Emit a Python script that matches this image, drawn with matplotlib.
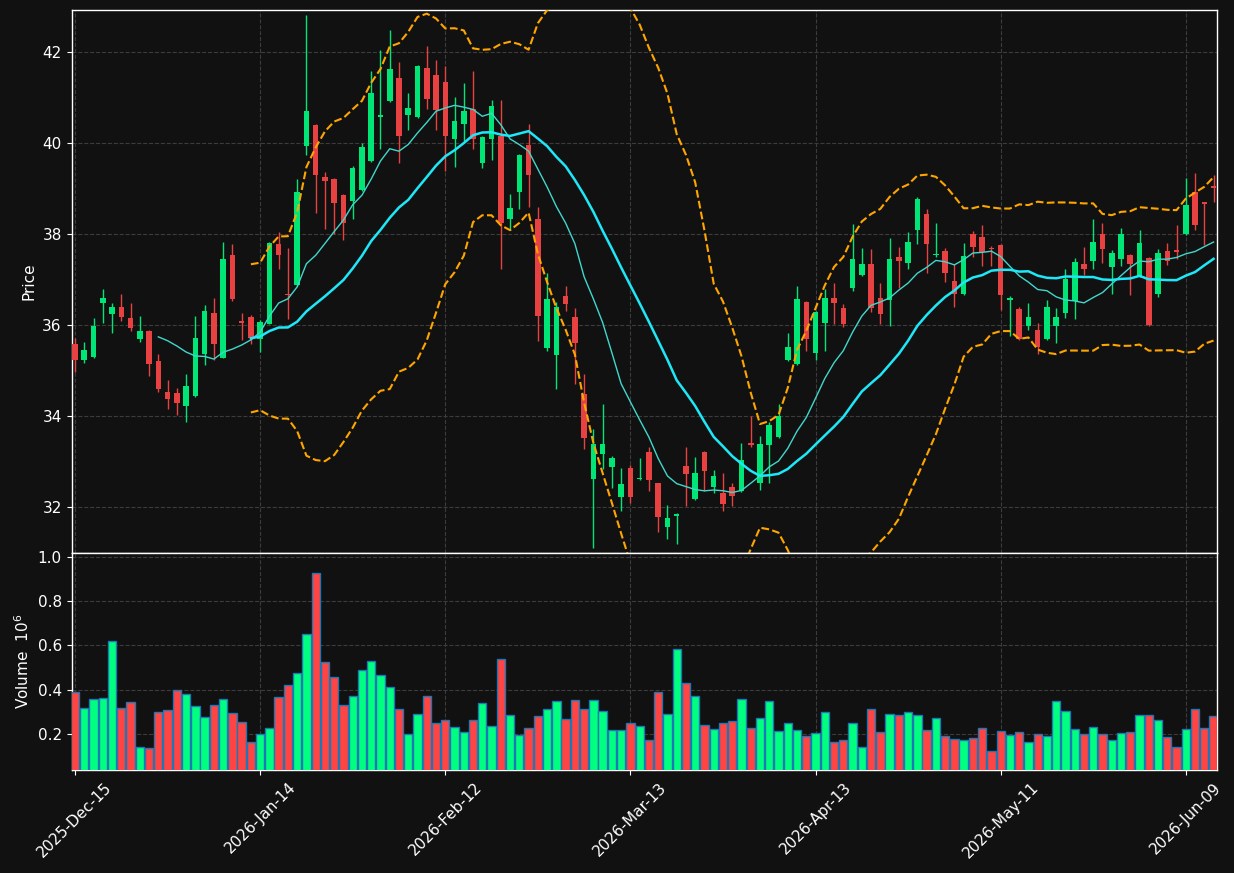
import numpy as np
import matplotlib
matplotlib.use('Agg')
import matplotlib.pyplot as plt
import pandas as pd

opens = [35.59, 35.23, 35.30, 36.49, 36.25, 36.40, 36.16, 35.70, 35.87, 35.20,
         34.52, 34.50, 34.22, 34.44, 35.37, 36.27, 35.28, 37.53, 36.07, 36.17,
         35.68, 36.03, 37.79, 36.67, 36.87, 39.94, 40.39, 39.25, 39.22, 38.85,
         38.73, 38.96, 39.61, 40.58, 40.93, 41.43, 40.62, 40.58, 41.66, 41.50,
         41.34, 40.10, 40.43, 40.76, 39.56, 40.10, 40.16, 38.34, 38.93, 39.95,
         38.32, 35.49, 35.33, 36.64, 36.17, 34.48, 32.61, 33.16, 32.88, 32.21,
         32.84, 32.60, 33.20, 32.51, 31.56, 31.80, 32.89, 32.16, 33.20, 32.44,
         32.31, 32.44, 32.34, 33.41, 32.52, 33.35, 33.54, 35.23, 35.13, 36.51,
         35.39, 36.05, 36.60, 36.37, 36.82, 37.09, 37.35, 36.60, 36.55, 37.50,
         37.37, 38.09, 38.45, 37.54, 37.63, 36.97, 36.67, 37.99, 37.94, 37.69,
         37.76, 36.55, 36.36, 35.97, 35.89, 35.69, 35.98, 36.27, 36.53, 37.35,
         37.40, 37.99, 37.28, 37.44, 37.53, 37.07, 37.48, 36.69, 37.63, 37.63,
         37.99, 38.92, 38.70, 39.04]
highs = [35.71, 35.62, 36.15, 36.79, 36.49, 36.68, 36.48, 36.20, 35.88, 35.36,
         34.79, 34.61, 34.92, 36.20, 36.44, 36.60, 37.83, 37.78, 36.26, 36.22,
         36.11, 37.83, 38.05, 37.70, 39.22, 42.82, 40.43, 39.37, 39.24, 38.87,
         39.50, 40.01, 41.59, 42.06, 42.48, 41.78, 41.10, 41.73, 42.13, 41.82,
         41.69, 41.01, 41.33, 41.58, 40.15, 40.95, 40.95, 38.89, 39.75, 40.43,
         38.60, 37.15, 36.50, 36.86, 36.37, 34.92, 33.70, 34.26, 33.12, 32.86,
         32.92, 33.08, 33.31, 32.53, 32.04, 31.87, 33.32, 33.10, 33.22, 32.81,
         32.75, 32.51, 33.40, 33.99, 33.55, 33.86, 34.26, 35.83, 36.85, 36.53,
         36.30, 36.78, 36.92, 36.47, 38.22, 37.70, 37.68, 36.92, 37.92, 37.72,
         38.05, 38.82, 38.54, 38.25, 37.70, 37.34, 37.80, 38.06, 38.19, 37.73,
         37.78, 36.64, 36.40, 36.48, 36.04, 36.55, 36.37, 37.24, 37.47, 37.72,
         38.32, 38.25, 37.65, 38.14, 37.57, 38.09, 37.50, 37.68, 37.81, 38.20,
         39.23, 39.35, 38.71, 39.29]
lows = [34.96, 35.16, 35.28, 36.04, 35.83, 36.08, 35.86, 35.62, 34.87, 34.52,
        34.14, 34.01, 33.87, 34.42, 35.11, 35.22, 35.27, 36.52, 35.66, 35.57,
        35.40, 36.01, 37.23, 36.13, 36.85, 39.74, 38.47, 38.11, 37.99, 37.87,
        38.34, 38.94, 39.59, 39.86, 40.91, 39.57, 40.30, 40.56, 40.76, 40.28,
        39.38, 39.48, 40.05, 39.86, 39.46, 39.63, 37.24, 38.09, 38.54, 38.60,
        35.65, 35.43, 34.58, 36.30, 34.69, 33.26, 31.08, 32.83, 32.41, 31.91,
        32.08, 32.58, 32.34, 31.45, 31.28, 31.18, 32.02, 32.14, 32.34, 32.29,
        31.91, 32.02, 32.32, 33.32, 32.37, 32.52, 33.52, 35.21, 35.11, 35.43,
        35.23, 35.43, 36.01, 35.95, 36.74, 37.07, 36.28, 36.01, 35.97, 36.82,
        37.22, 37.78, 37.14, 37.50, 36.94, 36.40, 36.65, 37.49, 37.30, 37.30,
        36.33, 35.75, 35.67, 35.88, 35.35, 35.67, 35.60, 36.15, 36.13, 37.10,
        37.24, 37.37, 36.67, 37.30, 36.65, 37.05, 35.98, 36.61, 37.32, 37.44,
        37.97, 38.08, 37.76, 38.71]
closes = [35.23, 35.45, 35.98, 36.60, 36.40, 36.17, 35.94, 35.87, 35.15, 34.58,
          34.38, 34.29, 34.65, 35.72, 36.31, 35.59, 37.44, 36.56, 36.05, 35.72,
          36.07, 37.81, 37.54, 36.65, 38.93, 40.70, 39.29, 39.16, 38.68, 38.24,
          39.45, 39.91, 41.10, 40.61, 41.63, 40.16, 40.77, 41.69, 40.98, 40.73,
          40.16, 40.49, 40.70, 40.10, 40.13, 40.82, 38.24, 38.58, 39.73, 39.30,
          36.20, 36.56, 36.40, 36.45, 35.61, 33.51, 33.38, 33.38, 33.06, 32.49,
          32.21, 32.62, 32.58, 31.77, 31.76, 31.82, 32.72, 32.73, 32.78, 32.67,
          32.05, 32.24, 33.03, 33.36, 33.38, 33.80, 34.00, 35.52, 36.56, 35.68,
          36.28, 36.60, 36.49, 36.02, 37.44, 37.35, 36.37, 36.25, 37.46, 37.40,
          37.83, 38.76, 37.77, 37.56, 37.14, 36.67, 37.52, 37.71, 37.60, 37.66,
          36.65, 36.60, 35.69, 36.17, 35.52, 36.40, 36.17, 37.02, 37.39, 37.24,
          37.83, 37.68, 37.59, 38.00, 37.33, 37.81, 36.00, 37.59, 37.40, 37.61,
          38.63, 38.19, 38.66, 39.02]
volumes_m = [0.389, 0.316, 0.357, 0.362, 0.620, 0.316, 0.343, 0.140, 0.135, 0.298,
             0.307, 0.398, 0.380, 0.325, 0.275, 0.330, 0.357, 0.294, 0.253, 0.162,
             0.198, 0.226, 0.366, 0.420, 0.475, 0.651, 0.928, 0.525, 0.457, 0.330,
             0.370, 0.488, 0.529, 0.466, 0.411, 0.312, 0.198, 0.289, 0.370, 0.248,
             0.262, 0.230, 0.208, 0.262, 0.339, 0.235, 0.538, 0.285, 0.194, 0.226,
             0.280, 0.312, 0.348, 0.266, 0.352, 0.312, 0.352, 0.303, 0.217, 0.217,
             0.248, 0.235, 0.171, 0.389, 0.289, 0.583, 0.429, 0.370, 0.239, 0.221,
             0.248, 0.257, 0.357, 0.226, 0.271, 0.348, 0.212, 0.248, 0.217, 0.189,
             0.203, 0.298, 0.162, 0.171, 0.248, 0.140, 0.312, 0.208, 0.289, 0.285,
             0.298, 0.285, 0.217, 0.271, 0.189, 0.176, 0.171, 0.180, 0.226, 0.122,
             0.212, 0.194, 0.208, 0.162, 0.198, 0.189, 0.348, 0.303, 0.221, 0.198,
             0.230, 0.198, 0.171, 0.203, 0.208, 0.285, 0.285, 0.262, 0.185, 0.140,
             0.221, 0.312, 0.226, 0.280]
tick_labels = ['2025-Dec-15', '2026-Jan-14', '2026-Feb-12', '2026-Mar-13',
               '2026-Apr-13', '2026-May-11', '2026-Jun-09']
tick_step = 20
mav_short, mav_long = 10, 20
bb_window, bb_k = 20, 2

df = pd.DataFrame({'Open': opens, 'High': highs, 'Low': lows,
                   'Close': closes, 'Volume': volumes_m})
n = len(df)
x = np.arange(n)
up = df['Close'] >= df['Open']

BG = '#111111'
UP_C, DN_C = '#00e676', '#e84142'
VUP_C, VDN_C = '#00ff80', '#ff4444'
GRID = '#3c3c3c'

fig = plt.figure(figsize=(12.34, 8.73), dpi=100, facecolor=BG)
L, R = 71.5 / 1234, 1217 / 1234
ax = fig.add_axes([L, 1 - 553 / 873, R - L, (553 - 10) / 873])
axv = fig.add_axes([L, 1 - 770 / 873, R - L, (770 - 553) / 873], sharex=ax)

for a in (ax, axv):
    a.set_facecolor(BG)
    for s in a.spines.values():
        s.set_color('white')
        s.set_linewidth(1.0)
    a.tick_params(colors='white', labelsize=11)
    a.grid(True, color=GRID, linestyle='--', linewidth=0.8)
    a.set_axisbelow(True)

# candles
wick_c = np.where(up, UP_C, DN_C)
ax.vlines(x, df['Low'], df['High'], colors=wick_c, linewidth=1.0, zorder=2)
body_bot = np.minimum(df['Open'], df['Close'])
body_h = np.maximum(np.abs(df['Close'] - df['Open']), 0.03)
ax.bar(x, body_h, bottom=body_bot, width=0.6, color=wick_c, linewidth=0, zorder=3)

# moving averages and bollinger bands
ma_s = df['Close'].rolling(mav_short).mean()
ma_l = df['Close'].rolling(mav_long).mean()
mid = df['Close'].rolling(bb_window).mean()
sd = df['Close'].rolling(bb_window).std()
ax.plot(x, ma_s, color='#40d8cc', linewidth=1.0, zorder=4)
ax.plot(x, ma_l, color='#1ee8f8', linewidth=1.8, zorder=4)
ax.plot(x, mid + bb_k * sd, color='#ffa500', linestyle='--', linewidth=1.5, zorder=4)
ax.plot(x, mid - bb_k * sd, color='#ffa500', linestyle='--', linewidth=1.5, zorder=4)

ax.set_ylim(30.98, 42.93)
ax.set_yticks([32, 34, 36, 38, 40, 42])
ax.set_ylabel('Price', color='white', fontsize=11)
ax.set_xlim(-0.38, n - 1 + 0.37)
plt.setp(ax.get_xticklabels(), visible=False)
ax.tick_params(axis='x', length=0)

# volume
vcol = np.where(up, VUP_C, VDN_C)
axv.bar(x, df['Volume'], width=0.9, color=vcol, edgecolor='#1f77b4', linewidth=1.0, zorder=3)
axv.set_ylim(0.037, 1.018)
axv.set_yticks([0.2, 0.4, 0.6, 0.8, 1.0])
axv.set_yticklabels(['0.2', '0.4', '0.6', '0.8', '1.0'])
axv.set_ylabel('Volume  $10^{6}$', color='white', fontsize=11)
ticks = np.arange(0, n, tick_step)[:len(tick_labels)]
axv.set_xticks(ticks)
axv.set_xticklabels(tick_labels, rotation=45, fontsize=11, color='white')

fig.savefig('out.png', dpi=100, facecolor=BG)
